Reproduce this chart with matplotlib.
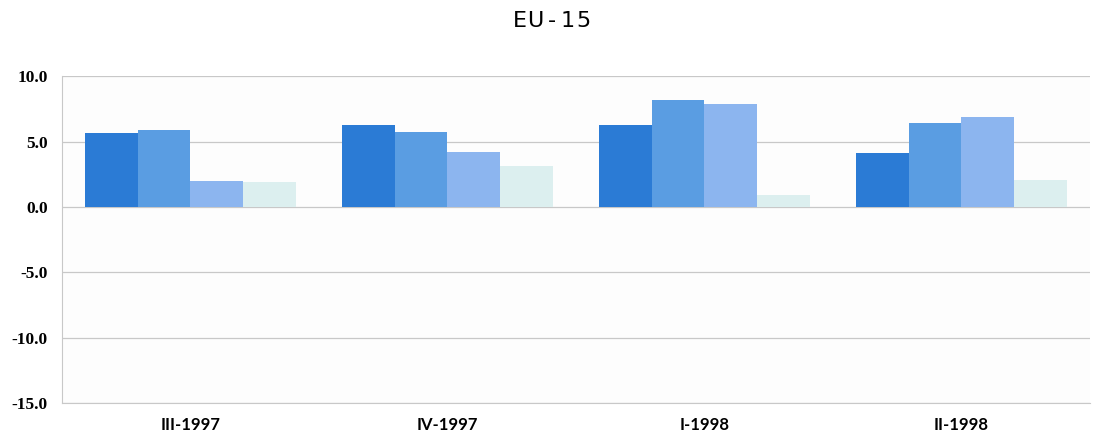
import numpy as np
import matplotlib
matplotlib.use("Agg")
import matplotlib.pyplot as plt

periodos = ["III-1997", "IV-1997", "I-1998", "II-1998"]
serie_1 = [5.65, 6.25, 6.3, 4.1]
serie_2 = [5.9, 5.75, 8.2, 6.4]
serie_3 = [2.0, 4.2, 7.85, 6.9]
serie_4 = [1.9, 3.1, 0.9, 2.05]
cores = ["#2b7bd5", "#5a9de2", "#8cb5ef", "#dcefef"]
yticks = [10.0, 5.0, 0.0, -5.0, -10.0, -15.0]

fig = plt.figure(figsize=(11.03, 4.43), dpi=100)
fig.patch.set_facecolor("white")
ax = fig.add_axes([0.056, 0.090, 0.932, 0.738])
ax.set_facecolor("#fdfdfd")

x = np.arange(len(periodos))
largura = 0.205
series = [serie_1, serie_2, serie_3, serie_4]
for i, (s, c) in enumerate(zip(series, cores)):
    ax.bar(x + (i - 1.5) * largura, s, width=largura, color=c, zorder=2)

ax.set_xlim(-0.5, len(periodos) - 0.5)
ax.set_ylim(-15, 10)
ax.set_yticks(yticks)
ax.set_yticklabels(["%.1f" % v for v in yticks], fontfamily="Liberation Serif",
                   fontweight="bold", fontsize=12.5)
ax.set_xticks(x)
ax.set_xticklabels(periodos, fontfamily="Lato", fontweight="bold",
                   fontsize=12)
ax.tick_params(axis="both", length=0)
ax.tick_params(axis="y", pad=10)
ax.tick_params(axis="x", pad=10)

ax.yaxis.grid(True, color="#c8c8c8", linewidth=0.9, zorder=0)
for lado in ["top", "right"]:
    ax.spines[lado].set_visible(False)
ax.spines["left"].set_color("#c8c8c8")
ax.spines["bottom"].set_color("#c8c8c8")

# titulo com letras espaçadas
letras = "EU-15"
passo = 0.0145
x0 = 0.5 - passo * (len(letras) - 1) / 2
for k, ch in enumerate(letras):
    fig.text(x0 + k * passo, 0.952, ch, ha="center", va="center", fontsize=16,
             fontfamily="DejaVu Sans")

plt.savefig("out.png", dpi=100)
